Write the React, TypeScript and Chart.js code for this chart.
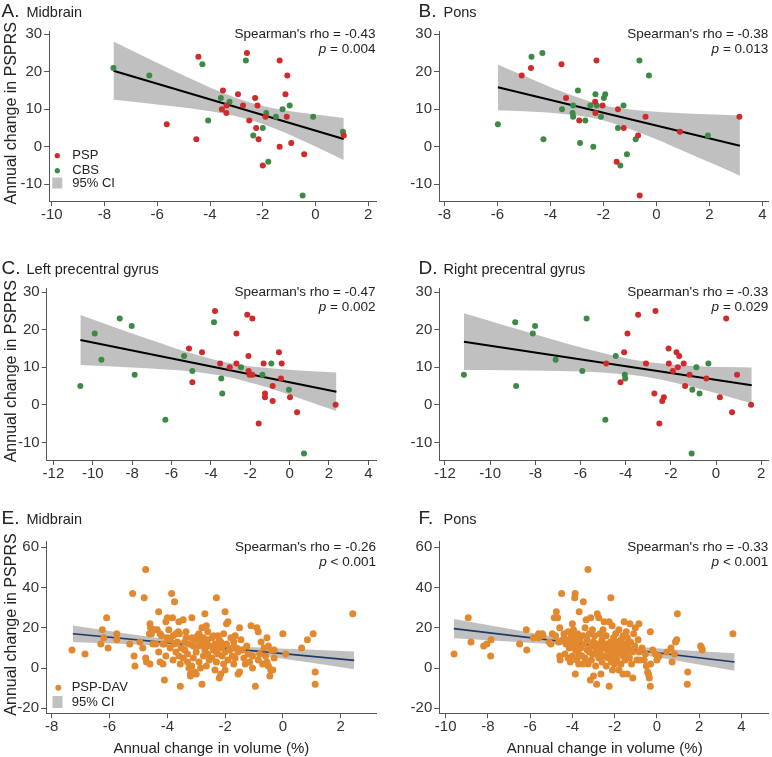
import React, { useEffect, useRef } from "react";
import { Chart, registerables } from "chart.js";
Chart.register(...registerables);

const FONT = "'Liberation Sans', Arial, Helvetica, sans-serif";
const RED = "#d02a2a";
const GREEN = "#3c8a46";
const ORANGE = "#e2882e";
const BAND = "#c0c0c0";
const NAVY = "#1f3864";
const AXIS = "#555555";
const TEXT = "#222222";

type Pt = [number, number];

// ---------- tick labels ----------
const yTicksSmall = [-10, 0, 10, 20, 30];
const yTicksLarge = [-20, 0, 20, 40, 60];
const xTicksA = [-10, -8, -6, -4, -2, 0, 2];
const xTicksB = [-8, -6, -4, -2, 0, 2, 4];
const xTicksC = [-12, -10, -8, -6, -4, -2, 0, 2, 4];
const xTicksD = [-12, -10, -8, -6, -4, -2, 0, 2];
const xTicksE = [-8, -6, -4, -2, 0, 2];
const xTicksF = [-10, -8, -6, -4, -2, 0, 2, 4];

// ---------- A. Midbrain ----------
const midbrainPsp: Pt[] = [[-4.44,24],[-2.6,25],[-1.36,23],[-1.07,19],[-3.51,15],[-2.94,14],[-1.14,14],[-2.29,13],[-3.37,11],[-2.75,11],[-2.2,11],[-3.55,10],[-3.38,9],[-1.9,8],[-1.09,8],[-2.51,7],[-5.64,6],[-2.25,5],[1.07,3],[-4.52,2],[-2.16,2],[-0.92,1],[-1.36,0],[-0.43,-2],[-2.0,-5]];
const midbrainCbs: Pt[] = [[-7.66,21],[-6.3,19],[-4.29,22],[-2.64,23],[-3.59,13],[-3.26,12],[-0.98,11],[-1.25,10],[-1.87,9],[-1.5,8],[-0.09,8],[-4.07,7],[-2.0,5],[-2.36,3],[1.04,4],[-1.79,-4],[-0.49,-13]];
const midbrainFit: Pt[] = [[-7.66,20.3],[1.07,2.1]];
const midbrainCiX = [-7.66,-6.5,-5,-3.5,-2.5,-1.5,0,1.07];
const midbrainCiUp = [28.05,24.06,19.01,14.33,11.84,10.16,8.59,7.71];
const midbrainCiLo = [12.55,11.7,10.49,8.91,7.24,4.74,0.07,-3.51];

// ---------- B. Pons ----------
const ponsPsp: Pt[] = [[-5.08,19],[-4.73,21],[-3.58,22],[-2.26,23],[-3.41,13],[-2.31,12],[-2.03,11],[-1.45,10],[-2.3,9],[-2.91,7],[-0.41,8],[3.13,8],[-1.23,5],[0.89,4],[-0.69,3],[-1.5,-4],[-0.63,-13]];
const ponsCbs: Pt[] = [[-4.71,24],[-4.3,25],[-0.64,23],[-0.28,19],[-2.96,15],[-2.3,14],[-1.93,14],[-1.98,13],[-3.14,11],[-2.49,11],[-2.25,11],[-1.24,11],[-3.56,10],[-3.16,9],[-3.14,8],[-2.09,8],[-2.68,7],[-5.98,6],[-1.45,5],[1.94,3],[-4.26,2],[-0.78,2],[-2.88,1],[-2.38,0],[-1.11,-2],[-1.36,-5]];
const ponsFit: Pt[] = [[-5.98,15.87],[3.15,0.31]];
const ponsCiX = [-5.98,-5,-3.5,-2.09,-0.5,1,2.2,3.15];
const ponsCiUp = [21.97,18.95,14.54,11.24,9.62,8.96,8.59,8.32];
const ponsCiLo = [9.77,9.45,8.76,7.24,3.44,-1.02,-4.73,-7.7];

// ---------- C. Left precentral gyrus ----------
const leftPsp: Pt[] = [[-3.79,25],[-2.15,24],[-1.89,23],[-2.7,19],[-5.11,15],[-4.45,14],[-0.54,14],[-2.09,13],[-3.53,11],[-2.7,11],[-1.32,11],[-0.4,11],[-3.04,10],[-2.08,9],[-2.03,8],[-1.89,8],[-0.44,7],[-4.94,6],[-0.86,5],[-1.25,3],[-1.25,2],[0.02,2],[-0.86,1],[2.34,0],[0.38,-2],[-1.57,-5]];
const leftCbs: Pt[] = [[-8.63,23],[-8.02,21],[-3.84,22],[-9.9,19],[-5.36,13],[-9.56,12],[-2.47,10],[-0.93,11],[-4.94,9],[-7.87,8],[-1.38,8],[-3.47,7],[-0.03,4],[-10.63,5],[-3.42,3],[-6.31,-4],[0.73,-13]];
const leftFit: Pt[] = [[-10.63,17.3],[2.38,3.5]];
const leftCiX = [-10.63,-9,-7,-5,-3.2,-1.5,0.5,2.38];
const leftCiUp = [23.95,20.9,17.22,13.78,11.32,10.0,9.19,8.65];
const leftCiLo = [10.65,10.24,9.68,8.88,7.52,5.22,1.79,-1.65];

// ---------- D. Right precentral gyrus ----------
const rightPsp: Pt[] = [[-2.68,25],[-3.45,24],[0.45,23],[-3.92,19],[-2.1,15],[-1.75,14],[-1.63,13],[-4.07,14],[-4.86,11],[-3.1,11],[-2.09,11],[-1.43,11],[-1.69,10],[-1.91,9],[-1.17,8],[0.93,8],[-0.43,7],[-4.23,6],[-1.37,5],[-2.73,3],[-2.31,2],[0.17,2],[-2.38,1],[1.55,0],[0.71,-2],[-2.51,-5]];
const rightCbs: Pt[] = [[-8.89,22],[-5.73,23],[-8.01,21],[-8.11,19],[-4.44,13],[-7.1,12],[-0.34,11],[-0.87,10],[-5.92,9],[-4.04,8],[-4.02,7],[-11.16,8],[-8.85,5],[-1.05,4],[-0.73,3],[-4.9,-4],[-1.08,-13]];
const rightFit: Pt[] = [[-11.16,16.84],[1.58,5.2]];
const rightCiX = [-11.16,-9.5,-7.5,-5.5,-3.19,-1,1.58];
const rightCiUp = [24.39,21.42,17.92,14.58,11.56,10.38,9.99];
const rightCiLo = [9.29,9.22,9.08,8.76,7.56,4.72,0.41];

// ---------- E. Midbrain (PSP-DAV) ----------
const davMidbrain: Pt[] = [
  [-7.3,9],[-6.85,7],
  [-6.3,12],[-6.25,19],[-6.2,15],[-6.1,25],[-6.05,10],
  [-5.75,17],[-5.75,14],
  [-5.3,12],[-5.2,37],[-5.15,6],[-5.12,1],
  [-4.95,13],[-4.85,10],[-4.8,35],[-4.75,49],[-4.75,5],[-4.72,3],[-4.6,2],[-4.62,17],[-4.6,22],[-4.58,20],[-4.55,17],[-4.5,12],
  [-4.45,19],[-4.4,12],[-4.35,19],[-4.3,28],[-4.3,8],[-4.25,3],[-4.2,16],[-4.15,2],[-4.1,-6],[-4.1,12],[-4.05,23],[-4.0,25],[-4.0,15],[-4.05,6],[-4.25,17],[-4.15,12],
  [-3.95,19],[-3.9,10],[-3.85,37],[-3.82,25],[-3.8,16],[-3.8,4],[-3.75,33],[-3.7,17],[-3.7,8],[-3.65,13],[-3.6,23],[-3.6,6],[-3.55,-9],[-3.55,2],[-3.58,17],[-3.52,10],[-3.9,14],[-3.75,12],[-3.62,18],
  [-3.45,24],[-3.45,5],[-3.4,13],[-3.4,9],[-3.35,18],[-3.3,3],[-3.3,7],[-3.25,12],[-3.2,-3],[-3.2,-4],[-3.15,25],[-3.15,15],[-3.15,1],[-3.1,11],[-3.1,5],[-3.05,-2],[-3.05,14],[-3.0,8],[-3.0,-3],[-3.35,15],[-3.25,0],
  [-2.95,16],[-2.9,11],[-2.9,3],[-2.85,13],[-2.8,-8],[-2.8,20],[-2.75,15],[-2.75,6],[-2.7,27],[-2.7,9],[-2.65,21],[-2.65,1],[-2.6,18],[-2.6,14],[-2.55,4],[-2.55,11],[-2.9,17],[-2.7,12],[-2.6,7],[-2.85,0],
  [-2.45,15],[-2.45,5],[-2.4,9],[-2.35,-1],[-2.35,12],[-2.3,35],[-2.3,3],[-2.25,7],[-2.25,16],[-2.2,-5],[-2.2,10],[-2.15,13],[-2.15,-3],[-2.1,6],[-2.05,17],[-2.05,2],[-2.0,28],[-2.0,8],[-2.0,-1],[-2.4,16],[-2.3,8],[-2.1,11],[-2.2,14],
  [-1.95,12],[-1.95,22],[-1.9,23],[-1.9,4],[-1.85,9],[-1.8,15],[-1.75,10],[-1.75,6],[-1.7,13],[-1.7,2],[-1.65,16],[-1.65,5],[-1.6,10],[-1.55,-3],[-1.55,8],[-1.5,20],[-1.5,-2],
  [-1.45,14],[-1.4,9],[-1.35,5],[-1.3,2],[-1.25,11],[-1.2,7],[-1.15,3],[-1.1,21],[-1.05,0],[-1.05,6],
  [-0.95,-9],[-0.9,20],[-0.85,18],[-0.85,4],[-0.8,7],[-0.75,13],[-0.7,2],[-0.65,10],[-0.6,6],[-0.55,15],[-0.55,3],[-0.5,11],[-0.5,1],
  [-0.45,-4],[-0.42,-1],[-0.35,-1],[-0.4,9],[-0.3,9],[-0.3,5],
  [0.0,17],[0.1,7],[0.65,10],[0.85,14],[1.05,17],[1.12,-2],[1.12,-8],[2.42,27]
];
const davMidbrainFit: Pt[] = [[-7.27,17.05],[2.47,3.8]];
const davMidbrainCiX = [-7.27,-6,-4.5,-2.62,-1,0.8,2.47];
const davMidbrainCiUp = [21.1,18.38,15.25,11.93,10.32,9.16,8.2];
const davMidbrainCiLo = [13.0,12.26,11.31,9.53,6.72,2.98,-0.6];

// ---------- F. Pons (PSP-DAV) ----------
const davPons: Pt[] = [
  [-9.6,7],[-8.93,25],[-8.8,13],[-8.2,11],[-8.05,12],[-7.85,14],[-7.87,6],
  [-6.5,12],[-6.18,19],[-6.16,9],
  [-5.85,15],[-5.6,17],[-5.6,15],[-5.42,17],[-5.4,16],[-5.02,12],[-5.1,13],
  [-4.95,17],[-4.86,25],[-4.76,28],[-4.7,25],[-4.6,20],[-4.6,6],[-4.58,4],[-4.51,37],[-4.8,16],[-4.65,13],
  [-4.4,17],[-4.35,7],[-4.3,12],[-4.25,14],[-4.2,18],[-4.15,10],[-4.1,3],[-4.05,16],[-4.0,22],[-4.0,13],[-4.0,6],[-4.45,14],[-4.2,5],[-4.1,11],
  [-3.95,19],[-3.9,15],[-3.89,35],[-3.87,37],[-3.86,-3],[-3.85,9],[-3.8,12],[-3.8,4],[-3.75,17],[-3.7,2],[-3.68,28],[-3.65,14],[-3.6,10],[-3.55,6],[-3.5,16],[-3.5,2],[-3.48,33],[-3.95,11],[-3.7,7],
  [-3.45,12],[-3.4,20],[-3.4,5],[-3.35,24],[-3.3,9],[-3.3,14],[-3.26,49],[-3.25,2],[-3.2,17],[-3.15,-6],[-3.13,25],[-3.1,11],[-3.1,4],[-3.05,19],[-3.05,7],[-3.0,13],[-3.0,-4],[-3.2,8],[-3.35,3],
  [-2.95,16],[-2.9,1],[-2.9,10],[-2.85,-8],[-2.82,27],[-2.8,12],[-2.75,25],[-2.75,5],[-2.7,17],[-2.7,8],[-2.65,-3],[-2.6,14],[-2.6,3],[-2.55,10],[-2.55,19],[-2.5,6],[-2.5,23],[-2.65,11],[-2.9,7],
  [-2.45,12],[-2.4,1],[-2.4,16],[-2.35,9],[-2.3,5],[-2.26,-9],[-2.26,23],[-2.2,13],[-2.18,35],[-2.15,3],[-2.12,21],[-2.1,9],[-2.1,-1],[-2.05,15],[-2.05,6],[-2.0,11],[-2.0,2],[-2.3,11],[-2.2,7],
  [-1.95,17],[-1.95,8],[-1.9,13],[-1.9,4],[-1.85,10],[-1.8,19],[-1.8,-1],[-1.75,7],[-1.7,14],[-1.7,2],[-1.65,11],[-1.61,-3],[-1.6,16],[-1.6,6],[-1.55,23],[-1.55,9],[-1.5,12],[-1.5,4],
  [-1.45,18],[-1.45,7],[-1.4,15],[-1.4,-3],[-1.35,10],[-1.3,5],[-1.28,22],[-1.25,13],[-1.2,2],[-1.15,8],[-1.14,-5],[-1.1,17],[-1.05,11],[-1.02,20],
  [-0.95,4],[-0.89,14],[-0.85,22],[-0.85,8],[-0.8,4],[-0.7,10],[-0.6,4],[-0.55,7],[-0.5,1],
  [-0.44,-2],[-0.36,-5],[-0.4,-3],[-0.31,18],[-0.31,-9],[-0.3,2],[-0.2,9],[-0.08,7],
  [0.03,5],[0.0,4],[0.1,6],[0.47,8],[0.67,10],[0.72,3],[0.83,7],[0.88,13],[0.94,14],[0.97,27],[1.46,-2],[1.44,-8],[2.07,11],[2.15,9],[2.12,10],[3.6,17]
];
const davPonsFit: Pt[] = [[-9.61,19.6],[3.68,3.0]];
const davPonsCiX = [-9.61,-8,-6,-4.5,-2.65,-0.5,1.5,3.68];
const davPonsCiUp = [24.4,21.37,17.67,15.01,12.21,10.15,8.76,7.4];
const davPonsCiLo = [14.8,13.81,12.51,11.43,9.61,6.29,2.68,-1.4];

// ---------- panel layout ----------
type Group = { label: string; color: string; points: Pt[] };
type Spec = {
  letter: string; name: string;
  left: number; top: number; width: number; height: number;
  area: { l: number; t: number; r: number; b: number };
  xMin: number; xMax: number; yMin: number; yMax: number;
  xTicks: number[]; yTicks: number[];
  groups: Group[]; fit: Pt[]; ciX: number[]; ciUp: number[]; ciLo: number[];
  lineColor: string; lineWidth: number; radius: number;
  rho: string; pOp: string; pVal: string;
  titleY: number; statsR: number; statsY: number;
  legend: "groups" | "dav" | null; yTitle: boolean; xTitle: boolean;
};

const specs: Spec[] = [
  { letter: "A.", name: "Midbrain", left: 0, top: 0, width: 386, height: 225,
    area: { l: 49.1, t: 31.3, r: 376.2, b: 201.2 }, xMin: -10.1, xMax: 2.3, yMin: -14.5, yMax: 30.8,
    xTicks: xTicksA, yTicks: yTicksSmall,
    groups: [{ label: "PSP", color: RED, points: midbrainPsp }, { label: "CBS", color: GREEN, points: midbrainCbs }],
    fit: midbrainFit, ciX: midbrainCiX, ciUp: midbrainCiUp, ciLo: midbrainCiLo,
    lineColor: "#000000", lineWidth: 2, radius: 3, rho: "-0.43", pOp: "=", pVal: "0.004",
    titleY: 16.5, statsR: 375.5, statsY: 37.5, legend: "groups", yTitle: true, xTitle: false },
  { letter: "B.", name: "Pons", left: 386, top: 0, width: 386, height: 225,
    area: { l: 439, t: 31.3, r: 770, b: 201.2 }, xMin: -8.2, xMax: 4.21, yMin: -14.5, yMax: 30.8,
    xTicks: xTicksB, yTicks: yTicksSmall,
    groups: [{ label: "PSP", color: RED, points: ponsPsp }, { label: "CBS", color: GREEN, points: ponsCbs }],
    fit: ponsFit, ciX: ponsCiX, ciUp: ponsCiUp, ciLo: ponsCiLo,
    lineColor: "#000000", lineWidth: 2, radius: 3, rho: "-0.38", pOp: "=", pVal: "0.013",
    titleY: 16.5, statsR: 768.3, statsY: 37.5, legend: null, yTitle: false, xTitle: false },
  { letter: "C.", name: "Left precentral gyrus", left: 0, top: 225, width: 386, height: 262,
    area: { l: 46.7, t: 288.3, r: 376, b: 460 }, xMin: -12.34, xMax: 4.39, yMin: -14.7, yMax: 31.07,
    xTicks: xTicksC, yTicks: yTicksSmall,
    groups: [{ label: "PSP", color: RED, points: leftPsp }, { label: "CBS", color: GREEN, points: leftCbs }],
    fit: leftFit, ciX: leftCiX, ciUp: leftCiUp, ciLo: leftCiLo,
    lineColor: "#000000", lineWidth: 2, radius: 3, rho: "-0.47", pOp: "=", pVal: "0.002",
    titleY: 274, statsR: 375.5, statsY: 296, legend: null, yTitle: true, xTitle: false },
  { letter: "D.", name: "Right precentral gyrus", left: 386, top: 225, width: 386, height: 262,
    area: { l: 439.3, t: 288.3, r: 770, b: 460 }, xMin: -12.25, xMax: 2.3, yMin: -14.7, yMax: 31.07,
    xTicks: xTicksD, yTicks: yTicksSmall,
    groups: [{ label: "PSP", color: RED, points: rightPsp }, { label: "CBS", color: GREEN, points: rightCbs }],
    fit: rightFit, ciX: rightCiX, ciUp: rightCiUp, ciLo: rightCiLo,
    lineColor: "#000000", lineWidth: 2, radius: 3, rho: "-0.33", pOp: "=", pVal: "0.029",
    titleY: 274, statsR: 768.3, statsY: 296, legend: null, yTitle: false, xTitle: false },
  { letter: "E.", name: "Midbrain", left: 0, top: 490, width: 386, height: 267,
    area: { l: 46, t: 541.7, r: 376.7, b: 713.3 }, xMin: -8.2, xMax: 3.25, yMin: -22.5, yMax: 62.8,
    xTicks: xTicksE, yTicks: yTicksLarge,
    groups: [{ label: "PSP-DAV", color: ORANGE, points: davMidbrain }],
    fit: davMidbrainFit, ciX: davMidbrainCiX, ciUp: davMidbrainCiUp, ciLo: davMidbrainCiLo,
    lineColor: NAVY, lineWidth: 1.6, radius: 3.5, rho: "-0.26", pOp: "<", pVal: "0.001",
    titleY: 524, statsR: 376, statsY: 551, legend: "dav", yTitle: true, xTitle: true },
  { letter: "F.", name: "Pons", left: 386, top: 490, width: 386, height: 267,
    area: { l: 439.3, t: 541.7, r: 770, b: 713.3 }, xMin: -10.3, xMax: 5.26, yMin: -22.5, yMax: 62.8,
    xTicks: xTicksF, yTicks: yTicksLarge,
    groups: [{ label: "PSP-DAV", color: ORANGE, points: davPons }],
    fit: davPonsFit, ciX: davPonsCiX, ciUp: davPonsCiUp, ciLo: davPonsCiLo,
    lineColor: NAVY, lineWidth: 1.6, radius: 3.5, rho: "-0.33", pOp: "<", pVal: "0.001",
    titleY: 524, statsR: 768.3, statsY: 551, legend: null, yTitle: false, xTitle: true },
];

function Panel({ s }: { s: Spec }) {
  const ref = useRef<HTMLCanvasElement>(null);
  useEffect(() => {
    const canvas = ref.current;
    if (!canvas) return;
    const aL = s.area.l - s.left;
    const aT = s.area.t - s.top;
    const aR = s.area.r - s.left;
    const aB = s.area.b - s.top;
    const ox = s.left, oy = s.top;

    const textPlugin = {
      id: "panelText",
      afterDraw(chart: any) {
        const ctx: CanvasRenderingContext2D = chart.ctx;
        ctx.save();
        ctx.fillStyle = TEXT;
        ctx.textBaseline = "alphabetic";
        // panel title
        const lx = s.left < 100 ? 1.5 : 418.5;
        ctx.textAlign = "left";
        ctx.font = `19px ${FONT}`;
        ctx.fillText(s.letter, lx - ox, s.titleY - oy);
        ctx.font = `14.5px ${FONT}`;
        ctx.fillText(s.name, lx + 25 - ox, s.titleY - oy);
        // statistics
        ctx.textAlign = "right";
        ctx.font = `13.5px ${FONT}`;
        ctx.fillText(`Spearman's rho = ${s.rho}`, s.statsR - ox, s.statsY - oy);
        const rest = ` ${s.pOp} ${s.pVal}`;
        const wRest = ctx.measureText(rest).width;
        ctx.fillText(rest, s.statsR - ox, s.statsY + 15 - oy);
        ctx.font = `italic 13.5px ${FONT}`;
        ctx.fillText("p", s.statsR - wRest - ox, s.statsY + 15 - oy);
        // legend
        ctx.textAlign = "left";
        ctx.textBaseline = "middle";
        ctx.font = `13px ${FONT}`;
        if (s.legend === "groups") {
          const rows = [155.7, 170.7];
          s.groups.forEach((g, i) => {
            ctx.fillStyle = g.color;
            ctx.beginPath();
            ctx.arc(57.3 - ox, rows[i] - oy, 2.6, 0, Math.PI * 2);
            ctx.fill();
            ctx.fillStyle = TEXT;
            ctx.fillText(g.label, 72.3 - ox, rows[i] - oy);
          });
          ctx.fillStyle = BAND;
          ctx.fillRect(52.3 - ox, 177.5 - oy, 10, 11);
          ctx.fillStyle = TEXT;
          ctx.fillText("95% CI", 72.3 - ox, 183 - oy);
        } else if (s.legend === "dav") {
          const g = s.groups[0];
          ctx.fillStyle = g.color;
          ctx.beginPath();
          ctx.arc(58.3 - ox, 687.7 - oy, 3, 0, Math.PI * 2);
          ctx.fill();
          ctx.fillStyle = TEXT;
          ctx.fillText(g.label, 71.7 - ox, 687.7 - oy);
          ctx.fillStyle = BAND;
          ctx.fillRect(52.5 - ox, 696 - oy, 10, 12);
          ctx.fillStyle = TEXT;
          ctx.fillText("95% CI", 71.7 - ox, 702 - oy);
        }
        // axis titles
        if (s.yTitle) {
          ctx.save();
          ctx.translate(11.5 - ox, (s.area.t + s.area.b) / 2 - 3 - oy);
          ctx.rotate(-Math.PI / 2);
          ctx.textAlign = "center";
          ctx.textBaseline = "middle";
          ctx.font = `16px ${FONT}`;
          ctx.fillText("Annual change in PSPRS", 0, 0);
          ctx.restore();
        }
        if (s.xTitle) {
          ctx.textAlign = "center";
          ctx.textBaseline = "alphabetic";
          ctx.font = `15px ${FONT}`;
          ctx.fillText("Annual change in volume (%)", (s.area.l + s.area.r) / 2 - ox, 752.5 - oy);
        }
        ctx.restore();
      },
    };

    const datasets: any[] = [
      {
        type: "line",
        data: s.ciX.map((x, i) => ({ x, y: s.ciUp[i] })),
        borderColor: "rgba(0,0,0,0)", borderWidth: 0, pointRadius: 0,
        backgroundColor: BAND, fill: 1, showLine: true,
        cubicInterpolationMode: "monotone", order: 10,
      },
      {
        type: "line",
        data: s.ciX.map((x, i) => ({ x, y: s.ciLo[i] })),
        borderColor: "rgba(0,0,0,0)", borderWidth: 0, pointRadius: 0,
        fill: false, showLine: true, cubicInterpolationMode: "monotone", order: 9,
      },
      {
        type: "line",
        data: s.fit.map(([x, y]) => ({ x, y })),
        borderColor: s.lineColor, borderWidth: s.lineWidth, pointRadius: 0,
        fill: false, showLine: true, order: 5,
      },
      ...s.groups.map((g) => ({
        type: "scatter",
        label: g.label,
        data: g.points.map(([x, y]) => ({ x, y })),
        backgroundColor: g.color, borderColor: g.color, borderWidth: 0,
        pointRadius: s.radius, order: 1,
      })),
    ];

    const tickFont = { family: FONT, size: 15 };
    const chart = new Chart(canvas, {
      type: "scatter",
      data: { datasets },
      plugins: [textPlugin],
      options: {
        animation: false,
        responsive: false,
        devicePixelRatio: 1,
        events: [],
        layout: { padding: { left: 0, top: aT, right: s.width - aR, bottom: 0 } },
        plugins: {
          legend: { display: false },
          tooltip: { enabled: false },
          title: { display: false },
          filler: { propagate: false, drawTime: "beforeDatasetsDraw" },
        },
        scales: {
          x: {
            type: "linear", min: s.xMin, max: s.xMax,
            afterBuildTicks: (sc: any) => { sc.ticks = s.xTicks.map((v) => ({ value: v })); },
            afterFit: (sc: any) => { sc.height = s.height - aB; sc.paddingLeft = 0; sc.paddingRight = 0; },
            grid: { drawOnChartArea: false, drawTicks: true, tickLength: 5, color: AXIS, tickColor: AXIS },
            border: { display: true, color: AXIS, width: 1 },
            ticks: { font: tickFont, color: "#333333", padding: 0, maxRotation: 0, autoSkip: false, callback: (v: any) => String(v) },
          },
          y: {
            type: "linear", min: s.yMin, max: s.yMax,
            afterBuildTicks: (sc: any) => { sc.ticks = s.yTicks.map((v) => ({ value: v })); },
            afterFit: (sc: any) => { sc.width = aL; sc.paddingTop = 0; sc.paddingBottom = 0; },
            grid: { drawOnChartArea: false, drawTicks: true, tickLength: 5, color: AXIS, tickColor: AXIS },
            border: { display: true, color: AXIS, width: 1 },
            ticks: { font: tickFont, color: "#333333", padding: 2, autoSkip: false, callback: (v: any) => String(v) },
          },
        },
      } as any,
    });
    return () => chart.destroy();
  }, [s]);

  return (
    <canvas
      ref={ref}
      width={s.width}
      height={s.height}
      style={{ position: "absolute", left: s.left, top: s.top, width: s.width, height: s.height }}
    />
  );
}

export default function App() {
  return (
    <div style={{ position: "absolute", left: 0, top: 0, width: 772, height: 757, background: "#ffffff", overflow: "hidden" }}>
      {specs.map((s) => (
        <Panel key={s.letter} s={s} />
      ))}
    </div>
  );
}
